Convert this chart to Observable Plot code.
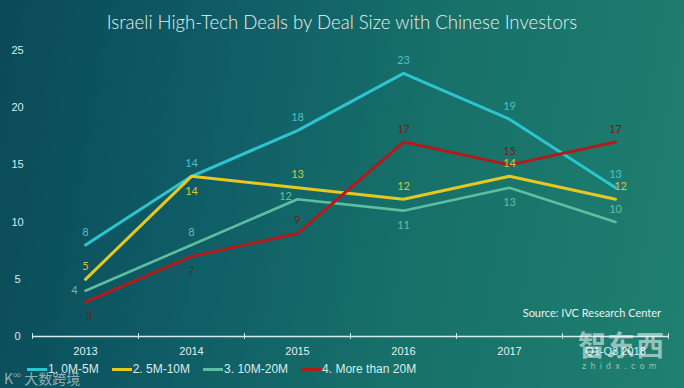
<!DOCTYPE html>
<html><head><meta charset="utf-8">
<script src="https://cdn.jsdelivr.net/npm/d3@7"></script>
<script src="https://cdn.jsdelivr.net/npm/@observablehq/plot@0.6"></script>
<style>
html,body{margin:0;padding:0;}
body{width:684px;height:388px;overflow:hidden;position:relative;
  background:linear-gradient(100deg,#0a4a57 0%,#0f5c66 30%,#177069 60%,#1f8070 100%);
  font-family:Lato,"DejaVu Sans",sans-serif;}
#title{height:40px;line-height:45px;text-align:center;color:#e4f1f1;font-size:18.6px;font-weight:300;}
#chart{height:325px;}
#legend{position:absolute;left:27px;top:362px;display:flex;align-items:center;font-family:"Liberation Sans",Arial,sans-serif;font-size:12px;color:#dcecec;}
#legend .item{display:flex;align-items:center;margin-right:13px;}
#legend .sw{width:20px;height:3px;margin-right:1px;}
#source{position:absolute;right:23px;top:306px;font-size:11px;color:#e8f2f2;}
.wm{position:absolute;color:rgba(255,255,255,0.55);font-family:"Noto Sans CJK SC",sans-serif;}
</style></head><body>
<div id="title">Israeli High-Tech Deals by Deal Size with Chinese Investors</div>
<div id="chart"></div>
<div id="legend"></div>
<div id="source">Source: IVC Research Center</div>
<div class="wm" style="left:4px;top:368px;font-size:14px;">K<sup style="font-size:8px">∞</sup> 大数跨境</div>
<div class="wm" style="left:578px;top:326px;font-size:28px;font-weight:700;letter-spacing:1px;line-height:36px;">智东西</div>
<div class="wm" style="left:582px;top:362px;font-size:8px;letter-spacing:4.2px;font-family:'DejaVu Sans',sans-serif;">zhidx.com</div>
<script>
const years = ["2013","2014","2015","2016","2017","Q1-Q3 2018"];
const seriesNames = ["1. 0M-5M","2. 5M-10M","3. 10M-20M","4. More than 20M"];
const s1 = [8,14,18,23,19,13];
const s2 = [5,14,13,12,14,12];
const s3 = [4,8,12,11,13,10];
const s4 = [3,7,9,17,15,17];
const yTicks = [0,5,10,15,20,25];

const lineColors = ["#2cc5cf","#e6c81f","#5dbf9f","#b31b1b"];
const labelColors = ["#4cc0c8","#dcc33a","#6db9a6","#7e1919"];
const widths = [3,3,2.6,3];
// label placement: a=above, b=below, l=left, al=above-left, ar=above-right, br=below-right
const placement = [
  ["a","a","a","a","a","a"],
  ["a","b","a","a","a","ar"],
  ["l","a","al","b","b","a"],
  ["br","b","a","a","a","a"]
];
const offs = {a:[0,-13], b:[0,15], l:[-11,0], al:[-12,-3], ar:[5,-13], br:[4,14]};

const allValues = [s1,s2,s3,s4];
const rows = [];
allValues.forEach((vals, si) => vals.forEach((v, i) => rows.push({
  series: seriesNames[si], si, year: years[i], value: v, pos: placement[si][i]
})));

const bw = (684 - 32 - 16) / years.length;

const marks = [
  Plot.ruleY([0], {stroke:"#d6ecec", strokeWidth:1.3}),
  Plot.ruleX(years, {x: d => d, y1: -0.25, y2: 0.25, dx: -bw/2, stroke:"#d6ecec", strokeWidth:1}),
  Plot.ruleX([years[years.length-1]], {x: d => d, y1: -0.25, y2: 0.25, dx: bw/2, stroke:"#d6ecec", strokeWidth:1}),
  Plot.axisY({ticks: yTicks, tickSize:0, tickPadding:0, textAnchor:"middle", dx:-15, fill:"#d8ecee", fontSize:11, fontFamily:"'Liberation Sans',Arial,sans-serif", label:null}),
  Plot.axisX({tickSize:0, tickPadding:11, fill:"#e2f0f0", fontSize:11, fontFamily:"'Liberation Sans',Arial,sans-serif", label:null}),
];
seriesNames.forEach((name, si) => {
  const data = rows.filter(r => r.si === si);
  marks.push(Plot.line(data, {x:"year", y:"value", stroke: lineColors[si], strokeWidth: widths[si], strokeLinejoin:"miter"}));
});
Object.keys(offs).forEach(k => {
  marks.push(Plot.text(rows.filter(r => r.pos === k), {
    x:"year", y:"value", text: d => String(d.value), dx: offs[k][0], dy: offs[k][1],
    fill: d => labelColors[d.si], fontSize: 11, fontFamily:"Lato,'DejaVu Sans',sans-serif"
  }));
});

const chart = Plot.plot({
  width: 684, height: 325,
  marginTop: 10, marginBottom: 29, marginLeft: 32, marginRight: 16,
  style: {background:"transparent", overflow:"visible"},
  x: {type:"band", domain: years, padding: 0},
  y: {domain:[0,25]},
  marks
});
document.getElementById("chart").appendChild(chart);

const legend = document.getElementById("legend");
seriesNames.forEach((name, si) => {
  const it = document.createElement("div"); it.className = "item";
  const sw = document.createElement("div"); sw.className = "sw"; sw.style.background = lineColors[si];
  const tx = document.createElement("span"); tx.textContent = name;
  it.appendChild(sw); it.appendChild(tx); legend.appendChild(it);
});
</script>
</body></html>
